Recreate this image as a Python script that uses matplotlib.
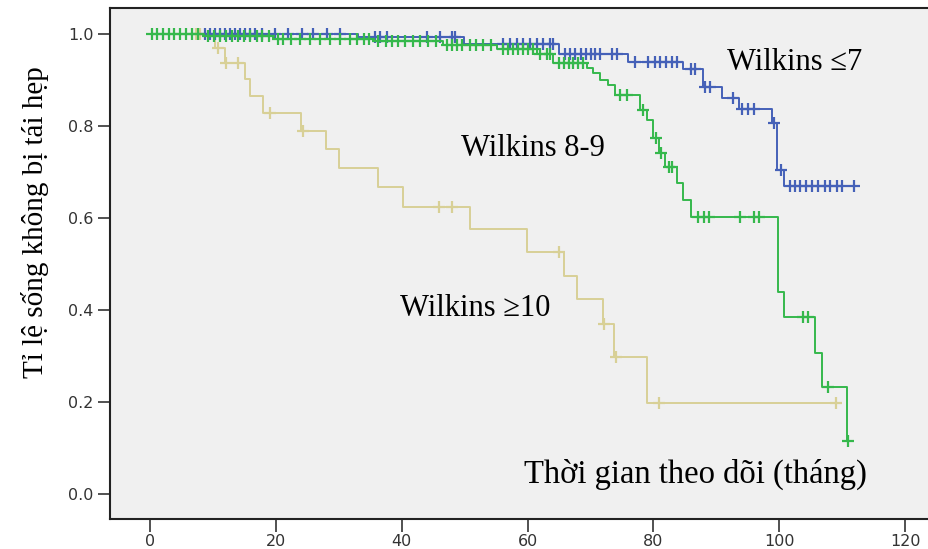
import numpy as np
import matplotlib
matplotlib.use("Agg")
import matplotlib.pyplot as plt

# ---------------- data ----------------
# Wilkins <=7 (blue)
blue_times = [33.0, 49.8, 64.9, 76.0, 84.7, 87.8, 90.9, 93.6, 98.9, 99.7, 100.8]
blue_surv = [0.993, 0.978, 0.957, 0.939, 0.924, 0.885, 0.861, 0.837, 0.806, 0.704, 0.670]
blue_end = 112.0
blue_cens = [8.7, 9.5, 10.3, 11.1, 11.9, 12.7, 13.5, 14.3, 15.1, 15.9, 16.7, 17.8,
             19.9, 21.9, 24.2, 25.9, 28.1, 30.2,
             35.8, 36.6, 37.7, 44.0, 46.1, 48.0, 48.5,
             56.1, 57.2, 58.3, 59.3, 60.4, 61.5, 62.5, 63.6, 64.1,
             66.0, 66.8, 67.6, 68.4, 69.2, 70.0, 70.7, 71.5, 73.4, 74.2,
             77.1, 79.2, 80.3, 81.1, 82.0, 83.0, 83.8,
             85.9, 86.6, 88.2, 89.0, 92.7, 94.1, 95.1, 95.9, 99.2, 100.2,
             101.7, 102.5, 103.3, 104.3, 105.2, 106.2, 107.2, 108.1, 109.1, 110.0, 111.8]

# Wilkins 8-9 (green)
green_times = [8.5, 19.5, 35.5, 46.6, 55.2, 61.5, 64.1, 69.5, 70.4, 71.5, 72.8, 73.9,
               77.9, 79.0, 80.0, 80.8, 81.9, 83.8, 84.7, 86.0, 99.8, 100.8, 105.7,
               106.8, 110.8]
green_surv = [0.995, 0.990, 0.985, 0.976, 0.967, 0.957, 0.937, 0.926, 0.915, 0.900, 0.889,
              0.867, 0.835, 0.813, 0.774, 0.741, 0.711, 0.676, 0.639, 0.602, 0.439, 0.385,
              0.307, 0.233, 0.115]
green_end = 110.8
green_cens = [0.3, 1.1, 2.1, 2.9, 3.8, 4.8, 5.7, 6.7, 7.6,
              9.2, 10.2, 11.1, 12.1, 13.0, 14.0, 14.9, 15.9, 16.9, 17.8, 18.8,
              20.3, 21.1, 22.3, 23.8, 25.4, 27.0, 28.6, 30.2, 31.8, 32.9, 33.9, 34.7,
              36.2, 37.4, 38.5, 39.4, 40.5, 41.7, 42.9, 44.2, 45.5,
              47.2, 48.0, 48.8, 49.6, 50.9, 51.8, 52.9, 54.1,
              56.0, 56.8, 57.7, 58.5, 59.3, 60.1, 60.9,
              62.0, 63.0, 63.6,
              64.9, 65.7, 66.5, 67.2, 68.0, 68.8,
              74.7, 75.8, 78.3, 80.4, 81.2, 82.4, 83.0,
              87.0, 88.0, 88.9, 93.8, 95.9, 96.8,
              103.8, 104.6, 107.8, 110.9]

# Wilkins >=10 (tan)
tan_times = [10.3, 11.9, 15.1, 15.9, 18.0, 24.0, 28.0, 30.0, 36.2, 40.1, 50.9, 59.9,
             65.8, 67.9, 72.0, 73.8, 79.0]
tan_surv = [0.970, 0.937, 0.902, 0.865, 0.828, 0.789, 0.750, 0.709, 0.667, 0.624, 0.576,
            0.526, 0.474, 0.424, 0.370, 0.298, 0.198]
tan_end = 109.5
tan_cens = [7.2, 7.9, 10.8, 12.1, 14.0, 19.1, 24.3, 45.9, 48.0, 64.9, 72.2, 74.0,
            80.9, 109.0]

x_ticks = [0, 20, 40, 60, 80, 100, 120]
y_ticks = [0.0, 0.2, 0.4, 0.6, 0.8, 1.0]

labels = ["Wilkins \u22647", "Wilkins 8-9", "Wilkins \u226510"]
xlabel = "Th\u1eddi gian theo d\u00f5i (th\u00e1ng)"
ylabel = "T\u1ec9 l\u1ec7 s\u1ed1ng kh\u00f4ng b\u1ecb t\u00e1i h\u1eb9p"

# ---------------- figure ----------------
W, H = 929, 549
fig = plt.figure(figsize=(W / 100, H / 100), dpi=100)
ax = fig.add_axes([110 / W, 1 - 519 / H, 1 - 110 / W, (519 - 8) / H])
ax.set_facecolor("#F0F0F0")


def draw(times, surv, end, cens, color, z):
    xs = np.concatenate([[0.0], times, [end]])
    ys = np.concatenate([[1.0], surv, [surv[-1]]])
    ax.step(xs, ys, where="post", color=color, lw=1.4, zorder=z)
    idx = np.searchsorted(np.asarray(times), np.asarray(cens), side="right")
    full = np.concatenate([[1.0], surv])
    ax.plot(cens, full[idx], linestyle="none", marker="+", ms=9, mew=1.6,
            color=color, zorder=z)


draw(tan_times, tan_surv, tan_end, tan_cens, "#D8D096", 2)
draw(blue_times, blue_surv, blue_end, blue_cens, "#4561B8", 3)
draw(green_times, green_surv, green_end, green_cens, "#35B84C", 4)

ax.set_xlim(-6.4, 123.8)
ax.set_ylim(-0.054, 1.0565)
ax.set_xticks(x_ticks)
ax.set_yticks(y_ticks)
ax.set_xticklabels([str(v) for v in x_ticks])
ax.set_yticklabels([f"{v:.1f}" for v in y_ticks])
ax.tick_params(axis="both", direction="out", length=9, width=1.2, color="#333333",
               labelsize=11.5, labelcolor="#333333")
ax.tick_params(axis="x", pad=2)
ax.tick_params(axis="y", pad=3)
for lab in ax.get_xticklabels() + ax.get_yticklabels():
    lab.set_family("DejaVu Sans")
for s in ["left", "bottom", "top"]:
    ax.spines[s].set_linewidth(1.5)
    ax.spines[s].set_color("#222222")
ax.spines["right"].set_visible(False)

serif = "Liberation Serif"


def ptext(px, py, s, size=22, **kw):
    fig.text(px / W, 1 - py / H, s, fontsize=size, family=serif,
             ha="center", va="center", **kw)


ptext(795, 62, labels[0])
ptext(533, 148, labels[1])
ptext(475, 308, labels[2])
ptext(695, 474, xlabel, size=23.5)
ptext(35, 222, ylabel, size=21, rotation=90)

fig.savefig("out.png", dpi=100)
